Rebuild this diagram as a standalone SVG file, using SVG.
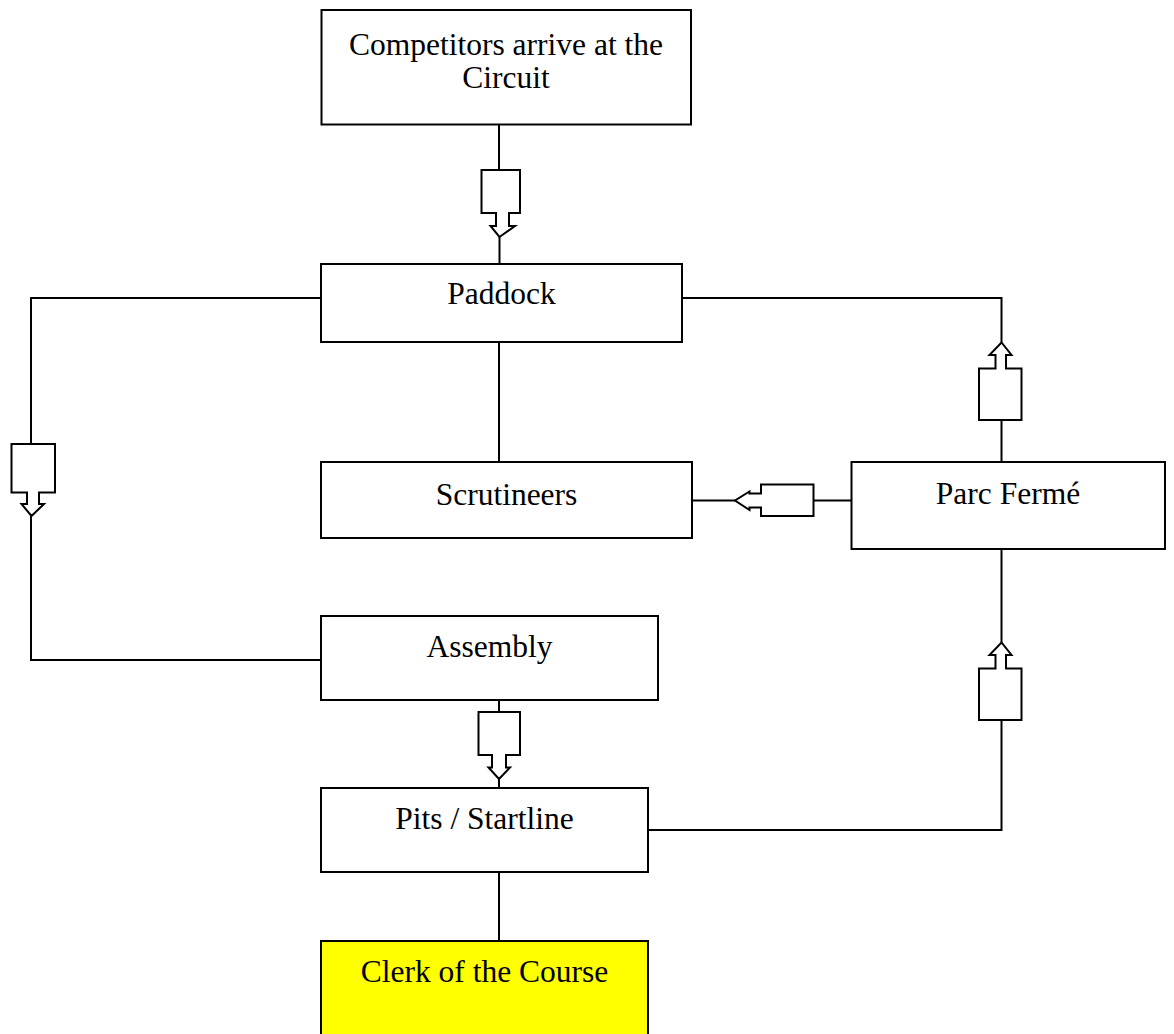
<svg xmlns="http://www.w3.org/2000/svg" width="1174" height="1034" viewBox="0 0 1174 1034">
  <style>
    .box { fill: #ffffff; stroke: #000000; stroke-width: 2; }
    .clerk { fill: #ffff00; stroke: #000000; stroke-width: 2; }
    .label { font-family: "Liberation Serif", "Times New Roman", serif; font-size: 31.5px; fill: #000000; text-anchor: middle; }
    .wire { fill: none; stroke: #000000; stroke-width: 2; }
    .block { fill: #ffffff; stroke: #000000; stroke-width: 2; stroke-linejoin: miter; }
  </style>
  <rect width="1174" height="1034" fill="#ffffff"/>

  <!-- connectors: plain wires plus hollow block arrows -->
  <g id="connectors">
    <!-- Competitors -> Paddock -->
    <polyline class="wire" points="499,124 499,170"/>
    <path class="block" d="M481.5,170 H520 V213 H509 V226 H515 L499.5,237 L490.5,226 H496 V213 H481.5 Z"/>
    <polyline class="wire" points="499.5,237 499.5,264"/>

    <!-- Paddock -> Scrutineers (plain) -->
    <polyline class="wire" points="499,342 499,462"/>

    <!-- Paddock -> Assembly, around the left side -->
    <polyline class="wire" points="321,298 31,298 31,444"/>
    <path class="block" d="M11.5,444 H55 V492.5 H39 V504 H44 L31.5,516 L21.5,504 H27 V492.5 H11.5 Z"/>
    <polyline class="wire" points="31,516 31,660 321,660"/>

    <!-- Assembly -> Pits / Startline -->
    <polyline class="wire" points="499,700 499,712"/>
    <path class="block" d="M478.5,712 H520 V755 H506 V767.5 H510 L499,779 L488.5,767.5 H492 V755 H478.5 Z"/>
    <polyline class="wire" points="499,779 499,788"/>

    <!-- Pits / Startline -> Clerk of the Course (plain) -->
    <polyline class="wire" points="499,872 499,941"/>

    <!-- Parc Fermé -> Paddock, up the right side -->
    <polyline class="wire" points="1001.5,462 1001.5,420"/>
    <path class="block" d="M979,420 V368.5 H995.5 V355 H989.5 L1001.5,342.5 L1011.5,355 H1006 V368.5 H1021.5 V420 Z"/>
    <polyline class="wire" points="1001.5,342.5 1001.5,298 682,298"/>

    <!-- Parc Fermé -> Scrutineers -->
    <polyline class="wire" points="851,500.5 813.5,500.5"/>
    <path class="block" d="M813.5,484.5 V516 H761 V507.5 H749.5 V510 L735,500.5 L749.5,491.5 V493.5 H761 V484.5 Z"/>
    <polyline class="wire" points="735,500.5 692,500.5"/>

    <!-- Pits / Startline -> Parc Fermé, up the right side -->
    <polyline class="wire" points="648,830 1001.5,830 1001.5,720"/>
    <path class="block" d="M979,720 V668.5 H995.5 V655 H989.5 L1001.5,642.5 L1011.5,655 H1006 V668.5 H1021.5 V720 Z"/>
    <polyline class="wire" points="1001.5,642.5 1001.5,549"/>
  </g>

  <g id="node-competitors">
    <rect class="box" x="321.5" y="10" width="369.5" height="114.5"/>
    <text class="label" x="506" y="55">Competitors arrive at the</text>
    <text class="label" x="506" y="88">Circuit</text>
  </g>

  <g id="node-paddock">
    <rect class="box" x="321" y="264" width="361" height="78"/>
    <text class="label" x="501.5" y="304">Paddock</text>
  </g>

  <g id="node-scrutineers">
    <rect class="box" x="321" y="462" width="371" height="76"/>
    <text class="label" x="506.5" y="505">Scrutineers</text>
  </g>

  <g id="node-parc-ferme">
    <rect class="box" x="851.5" y="462" width="313.5" height="87"/>
    <text class="label" x="1008" y="504">Parc Fermé</text>
  </g>

  <g id="node-assembly">
    <rect class="box" x="321" y="616" width="337" height="84"/>
    <text class="label" x="489.5" y="657">Assembly</text>
  </g>

  <g id="node-pits">
    <rect class="box" x="321" y="788" width="327" height="84"/>
    <text class="label" x="484.5" y="828.5">Pits / Startline</text>
  </g>

  <g id="node-clerk">
    <rect class="clerk" x="321" y="941" width="327" height="110"/>
    <text class="label" x="484.5" y="982">Clerk of the Course</text>
  </g>
</svg>
